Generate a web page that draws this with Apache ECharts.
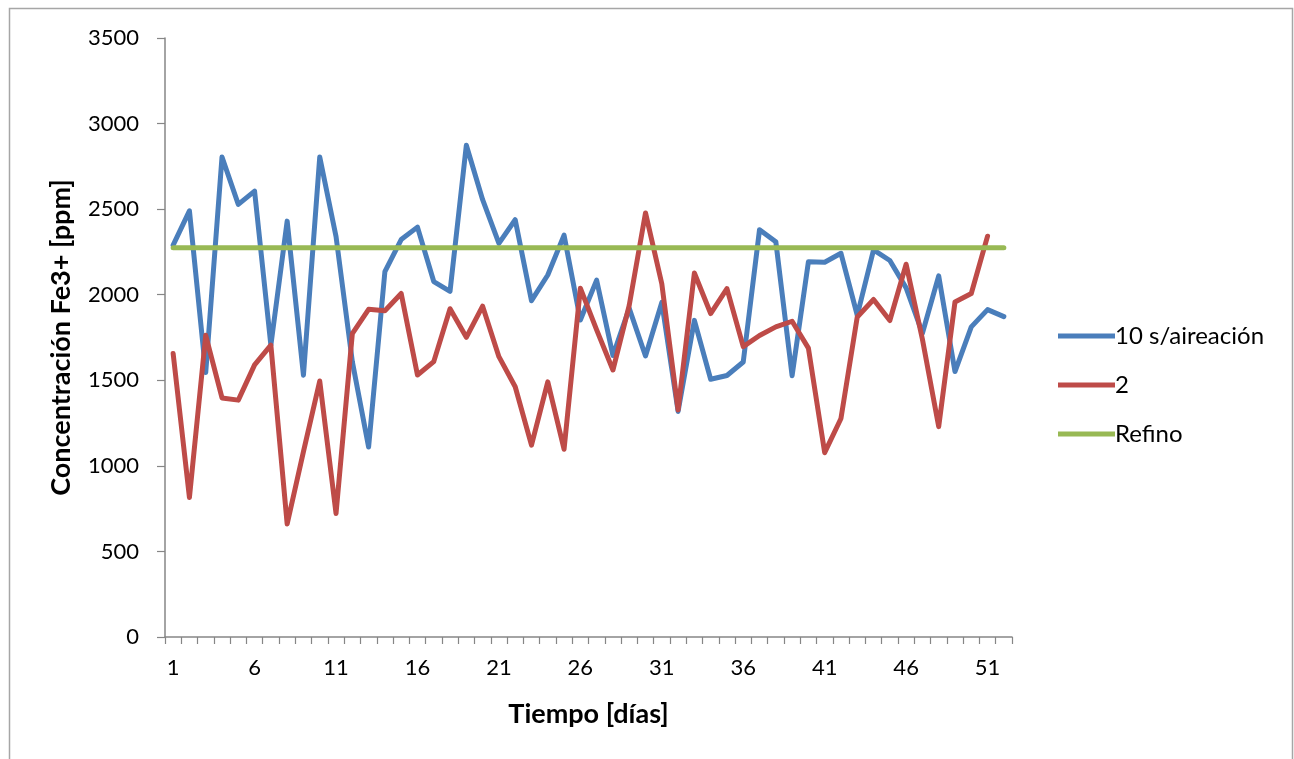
<!DOCTYPE html>
<html>
<head>
<meta charset="utf-8">
<script src="https://cdn.jsdelivr.net/npm/echarts@6/dist/echarts.min.js"></script>
<style>
html,body{margin:0;padding:0;background:#fff;}
#chart{width:1294px;height:759px;}
</style>
</head>
<body>
<div id="chart"></div>
<script>
const days = Array.from({length: 52}, (_, i) => String(i + 1));
const seriesNames = ['10 s/aireación', '2', 'Refino'];
const aireacion10 = [2290, 2490, 1545, 2805, 2528, 2605, 1705, 2430, 1530, 2805,
  2340, 1610, 1110, 2135, 2322, 2395, 2077, 2020, 2873, 2555,
  2300, 2438, 1965, 2115, 2348, 1852, 2085, 1645, 1920, 1642,
  1955, 1318, 1850, 1506, 1528, 1607, 2380, 2310, 1527, 2192,
  2190, 2242, 1880, 2262, 2200, 2040, 1775, 2110, 1551, 1812,
  1913, 1872];
const serie2 = [1656, 815, 1763, 1397, 1384, 1590, 1705, 660, 1083, 1496,
  722, 1772, 1915, 1906, 2007, 1531, 1609, 1918, 1751, 1933,
  1638, 1462, 1121, 1491, 1097, 2038, 1795, 1560, 1938, 2478,
  2064, 1327, 2127, 1890, 2036, 1697, 1762, 1812, 1845, 1688,
  1077, 1277, 1870, 1972, 1849, 2178, 1740, 1229, 1958, 2007,
  2342];
const refino = Array.from({length: 52}, () => 2275);
const yTicks = {min: 0, max: 3500, interval: 500};

const chart = echarts.init(document.getElementById('chart'), null, {renderer: 'canvas'});
const FONT = 'Lato, "Open Sans", sans-serif';
chart.setOption({
  backgroundColor: '#ffffff',
  animation: false,
  graphic: [{
    type: 'rect', silent: true,
    shape: {x: 9.5, y: 8.5, width: 1283, height: 800},
    style: {fill: 'none', stroke: '#a6a6a6', lineWidth: 1.5}
  }],
  grid: {left: 165, right: 282, top: 38, bottom: 122, containLabel: false},
  legend: {
    orient: 'vertical', left: 1053, top: 319,
    itemWidth: 57, itemHeight: 14, itemGap: 25,
    icon: 'path://M0,0 L55,0 L55,5 L0,5 Z',
    textStyle: {fontFamily: FONT, fontSize: 24, color: '#000', padding: [0, 0, 0, -5]},
    data: seriesNames
  },
  xAxis: {
    type: 'category', data: days, boundaryGap: true,
    name: 'Tiempo [días]', nameLocation: 'middle', nameGap: 64,
    nameTextStyle: {fontFamily: FONT, fontSize: 27, fontWeight: 'bold', color: '#000'},
    axisLine: {lineStyle: {color: '#868686', width: 1.5}},
    axisTick: {show: true, interval: 0, length: 7, lineStyle: {color: '#868686', width: 1.2}},
    axisLabel: {interval: 4, fontFamily: FONT, fontSize: 22, color: '#000', margin: 20},
    splitLine: {show: false}
  },
  yAxis: {
    type: 'value', min: yTicks.min, max: yTicks.max, interval: yTicks.interval,
    name: 'Concentración Fe3+ [ppm]', nameLocation: 'middle', nameGap: 90,
    nameTextStyle: {fontFamily: FONT, fontSize: 27, fontWeight: 'bold', color: '#000'},
    axisLine: {show: true, lineStyle: {color: '#868686', width: 1.5}},
    axisTick: {show: true, length: 8, lineStyle: {color: '#868686', width: 1.2}},
    axisLabel: {fontFamily: FONT, fontSize: 22, color: '#000', margin: 26,
                formatter: v => String(v)},
    splitLine: {show: false}
  },
  series: [
    {name: seriesNames[0], type: 'line', data: aireacion10, symbol: 'none',
     lineStyle: {color: '#4a7ebb', width: 5, cap: 'round', join: 'round'}, itemStyle: {color: '#4a7ebb'}, z: 3},
    {name: seriesNames[1], type: 'line', data: serie2, symbol: 'none',
     lineStyle: {color: '#be4b48', width: 5, cap: 'round', join: 'round'}, itemStyle: {color: '#be4b48'}, z: 4},
    {name: seriesNames[2], type: 'line', data: refino, symbol: 'none',
     lineStyle: {color: '#98b954', width: 5, cap: 'round'}, itemStyle: {color: '#98b954'}, z: 5}
  ]
});
</script>
</body>
</html>
